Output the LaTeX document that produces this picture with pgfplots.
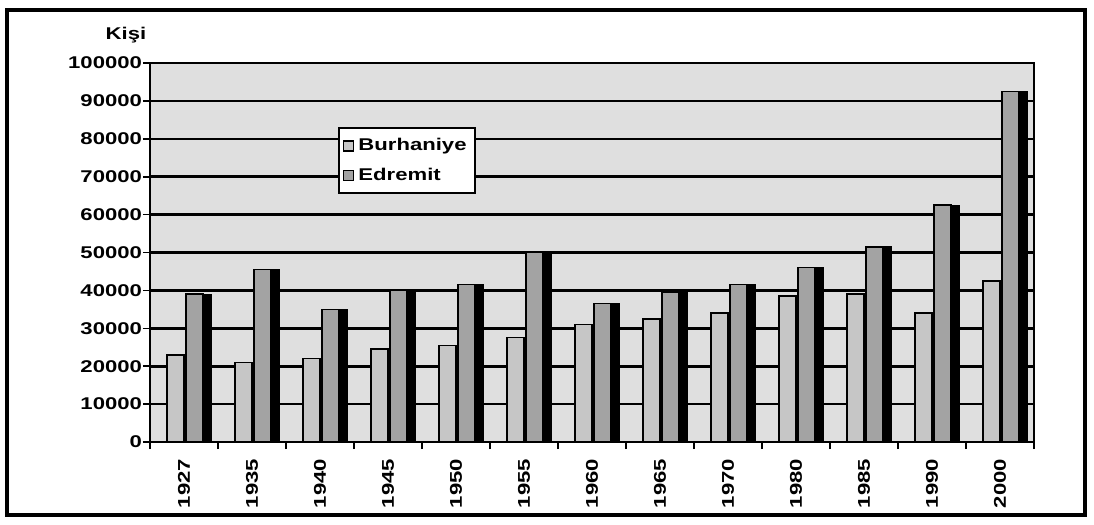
\documentclass[border=0pt]{standalone}
\usepackage{pgfplots}
\pgfplotsset{compat=1.18}
\usepackage{fontspec}
\setmainfont{Liberation Sans}
\newfontfamily\lbl[FakeStretch=1.3]{Liberation Sans Bold}
\pgfplotstableread{
x year bur edr
0 1927 23000 39000
1 1935 21000 45500
2 1940 22000 35000
3 1945 24500 40000
4 1950 25500 41500
5 1955 27500 50000
6 1960 31000 36500
7 1965 32500 39500
8 1970 34000 41500
9 1980 38500 46000
10 1985 39000 51500
11 1990 34000 62500
12 2000 42500 92500
}\data
\begin{document}
\begin{tikzpicture}
\path (-75pt,-41.5pt) rectangle (472pt,221pt);
\draw[line width=1.6pt] (-71.5pt,-36.5pt) rectangle (467.5pt,216pt);
\begin{axis}[
  at={(0pt,0pt)}, anchor=south west,
  scale only axis, width=442pt, height=189.5pt,
  xmin=-0.5, xmax=12.5, ymin=0, ymax=100000,
  xtick={-0.5,0.5,...,12.5}, xticklabels={},
  extra x ticks={0,1,...,12},
  extra x tick labels={1927,1935,1940,1945,1950,1955,1960,1965,1970,1980,1985,1990,2000},
  extra x tick style={major tick length=0pt, grid=none},
  x tick label style={rotate=90, anchor=east, font=\lbl\fontsize{8.5}{10}\selectfont, xshift=-5pt, yshift=0pt},
  ytick={0,10000,...,100000},
  y tick label style={font=\lbl\fontsize{8.5}{10}\selectfont, xshift=3pt},
  /pgf/number format/assume math mode=true,
  scaled y ticks=false,
  yticklabel={\pgfmathprintnumber[fixed,1000 sep={}]{\tick}},
  tick style={black, line width=0.8pt},
  major tick length=3.5pt,
  tick align=outside,
  xtick pos=bottom, ytick pos=left,
  ymajorgrids, grid style={black, line width=1.3pt},
  axis background/.style={fill=gray!25},
  axis line style={black, line width=0.8pt},
  ybar, bar width=8.5pt,
  legend style={at={(0.213,0.83)}, anchor=north west, draw=black, line width=1pt,
    font=\lbl\fontsize{8.5}{10}\selectfont, fill=white, inner xsep=2pt, inner ysep=3pt, row sep=3pt},
  legend cell align=left,
  legend image code/.code={\draw[#1, line width=0.6pt] (0pt,-2.5pt) rectangle (5pt,2.5pt);},
  clip=false,
]
\addplot[fill=black, draw=black, bar shift=11.5pt, bar width=4pt, forget plot] table[x=x, y=edr] {\data};
\addplot[fill=gray!45, draw=black, line width=0.7pt, bar shift=-4.25pt] table[x=x, y=bur] {\data};
\addplot[fill=gray!72, draw=black, line width=0.7pt, bar shift=5.25pt] table[x=x, y=edr] {\data};
\legend{Burhaniye, Edremit}
\node[font=\lbl\fontsize{8.5}{10}\selectfont] at (rel axis cs:0,1) [xshift=-12pt, yshift=14pt] {Kişi};
\end{axis}
\end{tikzpicture}
\end{document}
